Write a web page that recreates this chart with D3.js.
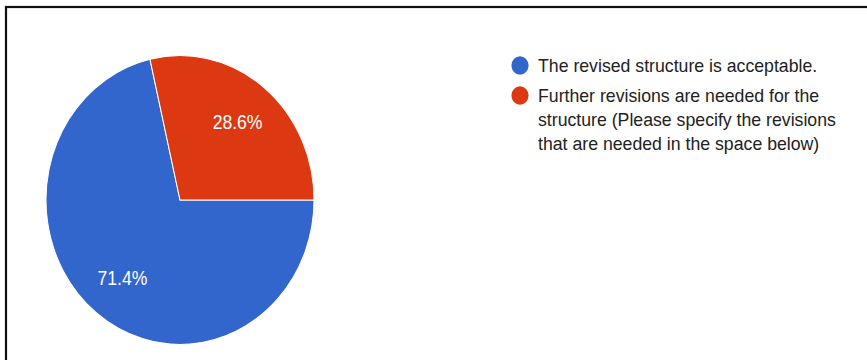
<!DOCTYPE html>
<html>
<head>
<meta charset="utf-8">
<script src="https://cdn.jsdelivr.net/npm/d3@7"></script>
<style>
  html, body { margin: 0; padding: 0; background: #fff; }
  svg { display: block; }
</style>
</head>
<body>
<svg id="chart" width="867" height="360"></svg>
<script>
// Survey answers
const categories = [
  "The revised structure is acceptable.",
  "Further revisions are needed for the structure (Please specify the revisions that are needed in the space below)"
];
const shares = [71.4, 28.6];
const colors = ["#3366cc", "#dc3912"];
// Legend text broken into display lines
const legendLines = [
  ["The revised structure is acceptable."],
  ["Further revisions are needed for the",
   "structure (Please specify the revisions",
   "that are needed in the space below)"]
];

const W = 867, H = 360;
const stretchY = 1.078;          // chart is slightly taller than wide
const font = "'Liberation Sans', Arial, sans-serif";
const svg = d3.select("#chart");

// Frame around the chart (runs off the right and bottom edges)
svg.append("rect")
  .attr("x", 6).attr("y", 7)
  .attr("width", 900).attr("height", 400)
  .attr("fill", "none")
  .attr("stroke", "#111")
  .attr("stroke-width", 2.2);

// Pie
const cx = 180, cy = 200, R = 134;
const pie = d3.pie()
  .sort(null)
  .value(d => d)
  .startAngle(Math.PI / 2)
  .endAngle(Math.PI / 2 + 2 * Math.PI);
const arcs = pie(shares);
const arc = d3.arc().innerRadius(0).outerRadius(R);
const labelArc = d3.arc().innerRadius(R * 0.69).outerRadius(R * 0.69);

const g = svg.append("g")
  .attr("transform", `translate(${cx},${cy}) scale(1,${stretchY})`);

g.selectAll("path.slice")
  .data(arcs)
  .join("path")
  .attr("class", "slice")
  .attr("d", arc)
  .attr("fill", (d, i) => colors[i])
  .attr("stroke", "#fff")
  .attr("stroke-width", 1);

g.selectAll("g.pct")
  .data(arcs)
  .join("g")
  .attr("class", "pct")
  .attr("transform", d => {
    const [x, y] = labelArc.centroid(d);
    return `translate(${x},${y}) scale(1,${stretchY})`;
  })
  .append("text")
  .attr("text-anchor", "middle")
  .attr("dy", "0.35em")
  .attr("fill", "#fff")
  .attr("font-family", font)
  .attr("font-size", 17.6)
  .text(d => d.data.toFixed(1) + "%");

// Legend
const legendX = 520, textX = 538;
const entryTop = [72, 102];      // baseline of first line of each entry
const lineStep = 24;

const lg = svg.append("g");
categories.forEach((cat, i) => {
  const item = lg.append("g").attr("class", "legend-item");
  item.append("ellipse")
    .attr("cx", legendX)
    .attr("cy", entryTop[i] - 6.5)
    .attr("rx", 8.6)
    .attr("ry", 8.6 * stretchY)
    .attr("fill", colors[i]);
  legendLines[i].forEach((line, j) => {
    item.append("g")
      .attr("transform", `translate(${textX},${entryTop[i] + j * lineStep}) scale(1,${stretchY})`)
      .append("text")
      .attr("fill", "#222")
      .attr("font-family", font)
      .attr("font-size", 17.7)
      .text(line);
  });
});
</script>
</body>
</html>
